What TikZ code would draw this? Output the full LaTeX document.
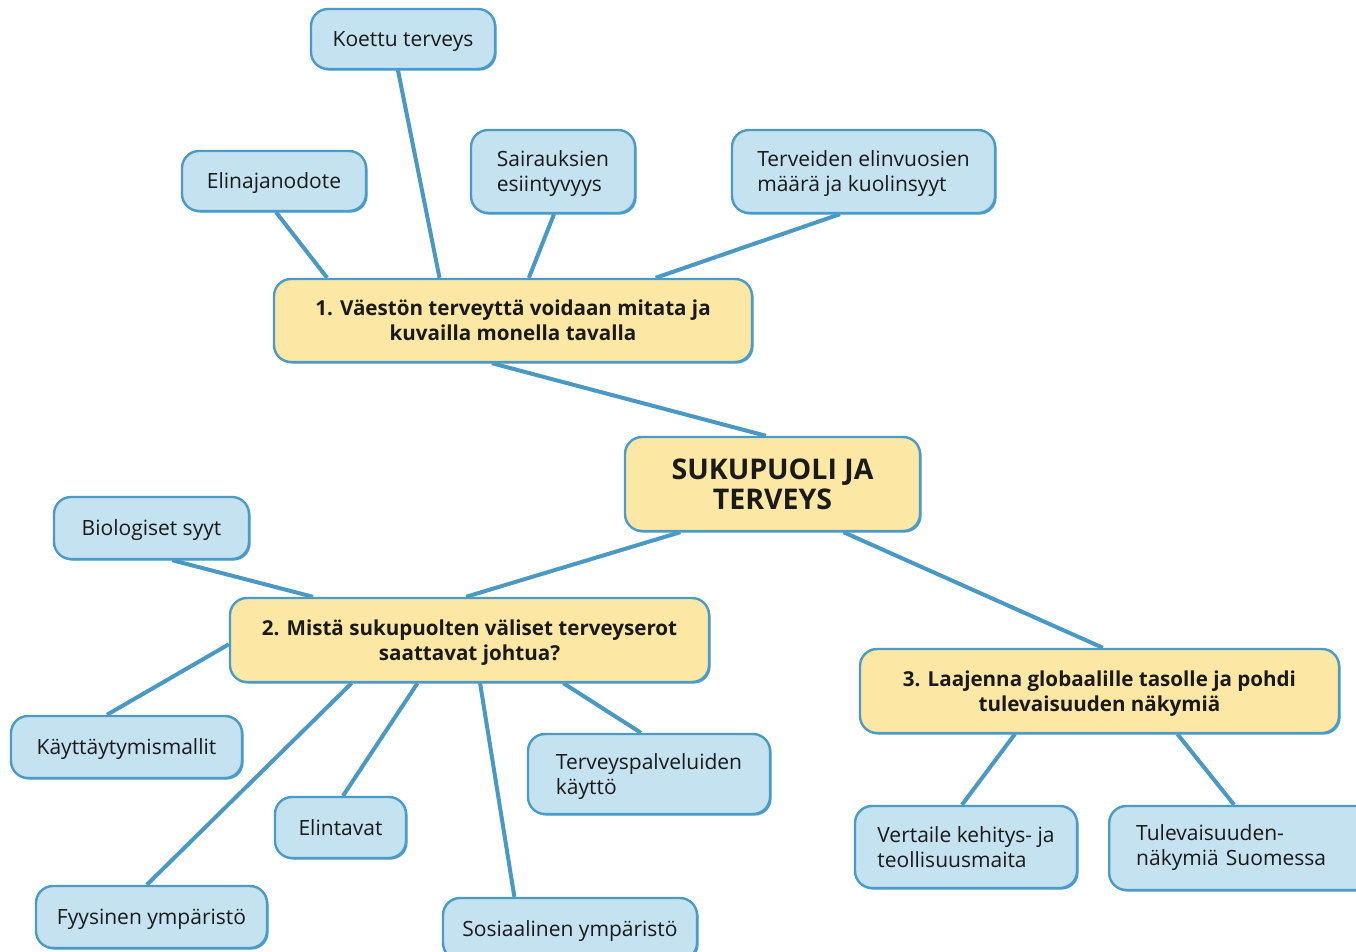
\documentclass[tikz,border=0pt]{standalone}
\usepackage{fontspec}
\setmainfont{Open Sans}
\usetikzlibrary{calc,shadows,backgrounds}
\definecolor{bfill}{HTML}{C5E2F0}
\definecolor{bdraw}{HTML}{4A9BC8}
\definecolor{yfill}{HTML}{FDE7A5}
\definecolor{lnk}{HTML}{4A98C4}
\definecolor{txt}{HTML}{1A1A1A}
\tikzset{
  box/.style={draw=bdraw, line width=2.4pt, rounded corners=17pt, text=txt, text depth=0pt,
    drop shadow={shadow xshift=1.6pt, shadow yshift=-1.6pt, fill=bdraw, opacity=1}},
  bluebox/.style={box, fill=bfill, align=left, font=\fontsize{21}{25}\selectfont, inner sep=0pt},
  yellowbox/.style={box, fill=yfill, align=center, font=\bfseries\fontsize{20.6}{25}\selectfont, inner sep=0pt},
  centerbox/.style={box, fill=yfill, align=center, font=\bfseries\fontsize{28.5}{30}\selectfont, inner sep=0pt},
  link/.style={draw=lnk, line width=4pt}
}
\begin{document}
\begin{tikzpicture}[x=1pt,y=-1pt]
\useasboundingbox (0,0) rectangle (1356,952);
\clip (0,0) rectangle (1356,952);

% top group
\node[bluebox, minimum width=184pt, minimum height=60pt] (koettu) at (403,39) {Koettu terveys};
\node[bluebox, minimum width=184pt, minimum height=60pt] (elin) at (274,181) {Elinajanodote};
\node[bluebox, minimum width=164pt, minimum height=83pt] (sair) at (553,171.5) {Sairauksien\\esiintyvyys};
\node[bluebox, minimum width=263pt, minimum height=83pt] (terv) at (863.5,171.5) {Terveiden elinvuosien\\määrä ja kuolinsyyt};
\node[yellowbox, minimum width=478pt, minimum height=83pt] (b1) at (513,320.5) {1. Väestön terveyttä voidaan mitata ja\\kuvailla monella tavalla};

% central
\node[centerbox, minimum width=295pt, minimum height=94pt] (c) at (772.5,484) {SUKUPUOLI JA\\TERVEYS};

% group 2
\node[bluebox, minimum width=195pt, minimum height=62pt] (bio) at (151.5,528) {Biologiset syyt};
\node[yellowbox, minimum width=479pt, minimum height=84pt] (b2) at (469.5,640) {2. Mistä sukupuolten väliset terveyserot\\saattavat johtua?};
\node[bluebox, minimum width=231pt, minimum height=62pt] (kay) at (126.5,747) {Käyttäytymismallit};
\node[bluebox, minimum width=131pt, minimum height=61pt] (elt) at (340.5,827.5) {Elintavat};
\node[bluebox, minimum width=242pt, minimum height=80pt] (tpk) at (649,774) {Terveyspalveluiden\\käyttö};
\node[bluebox, minimum width=231pt, minimum height=62pt] (fyy) at (151.5,917) {Fyysinen ympäristö};
\node[bluebox, minimum width=254pt, minimum height=62pt] (sos) at (570,929) {Sosiaalinen ympäristö};

% group 3
\node[yellowbox, minimum width=479pt, minimum height=84pt] (b3) at (1099.5,691) {3. Laajenna globaalille tasolle ja pohdi\\tulevaisuuden näkymiä};
\node[bluebox, minimum width=222pt, minimum height=82pt] (ver) at (966,847) {Vertaile kehitys- ja\\teollisuusmaita};
\node[bluebox, text depth=, anchor=west, text width=216pt, inner xsep=27pt, minimum height=84pt] (tul) at (1108,848) {Tulevaisuuden-\\näkymiä Suomessa};

\begin{scope}[on background layer]
\draw[link] ($(koettu.south west)!0.473!(koettu.south east)$) -- ($(b1.north west)!0.347!(b1.north east)$);
\draw[link] ($(elin.south west)!0.511!(elin.south east)$) -- ($(b1.north west)!0.113!(b1.north east)$);
\draw[link] ($(sair.south west)!0.506!(sair.south east)$) -- ($(b1.north west)!0.533!(b1.north east)$);
\draw[link] ($(terv.south west)!0.411!(terv.south east)$) -- ($(b1.north west)!0.797!(b1.north east)$);
\draw[link] ($(b1.south west)!0.456!(b1.south east)$) -- ($(c.north west)!0.478!(c.north east)$);
\draw[link] ($(c.south west)!0.19!(c.south east)$) -- ($(b2.north west)!0.493!(b2.north east)$);
\draw[link] ($(c.south west)!0.739!(c.south east)$) -- ($(b3.north west)!0.507!(b3.north east)$);
\draw[link] ($(bio.south west)!0.605!(bio.south east)$) -- ($(b2.north west)!0.175!(b2.north east)$);
\draw[link] ($(b2.north west)!0.55!(b2.south west)$) -- ($(kay.north west)!0.416!(kay.north east)$);
\draw[link] ($(b2.south west)!0.255!(b2.south east)$) -- ($(fyy.north west)!0.48!(fyy.north east)$);
\draw[link] ($(b2.south west)!0.392!(b2.south east)$) -- ($(elt.north west)!0.519!(elt.north east)$);
\draw[link] ($(b2.south west)!0.522!(b2.south east)$) -- ($(sos.north west)!0.283!(sos.north east)$);
\draw[link] ($(b2.south west)!0.695!(b2.south east)$) -- ($(tpk.north west)!0.467!(tpk.north east)$);
\draw[link] ($(b3.south west)!0.324!(b3.south east)$) -- ($(ver.north west)!0.482!(ver.north east)$);
\draw[link] ($(b3.south west)!0.662!(b3.south east)$) -- ($(tul.north west)!0.463!(tul.north east)$);
\end{scope}
\end{tikzpicture}
\end{document}
